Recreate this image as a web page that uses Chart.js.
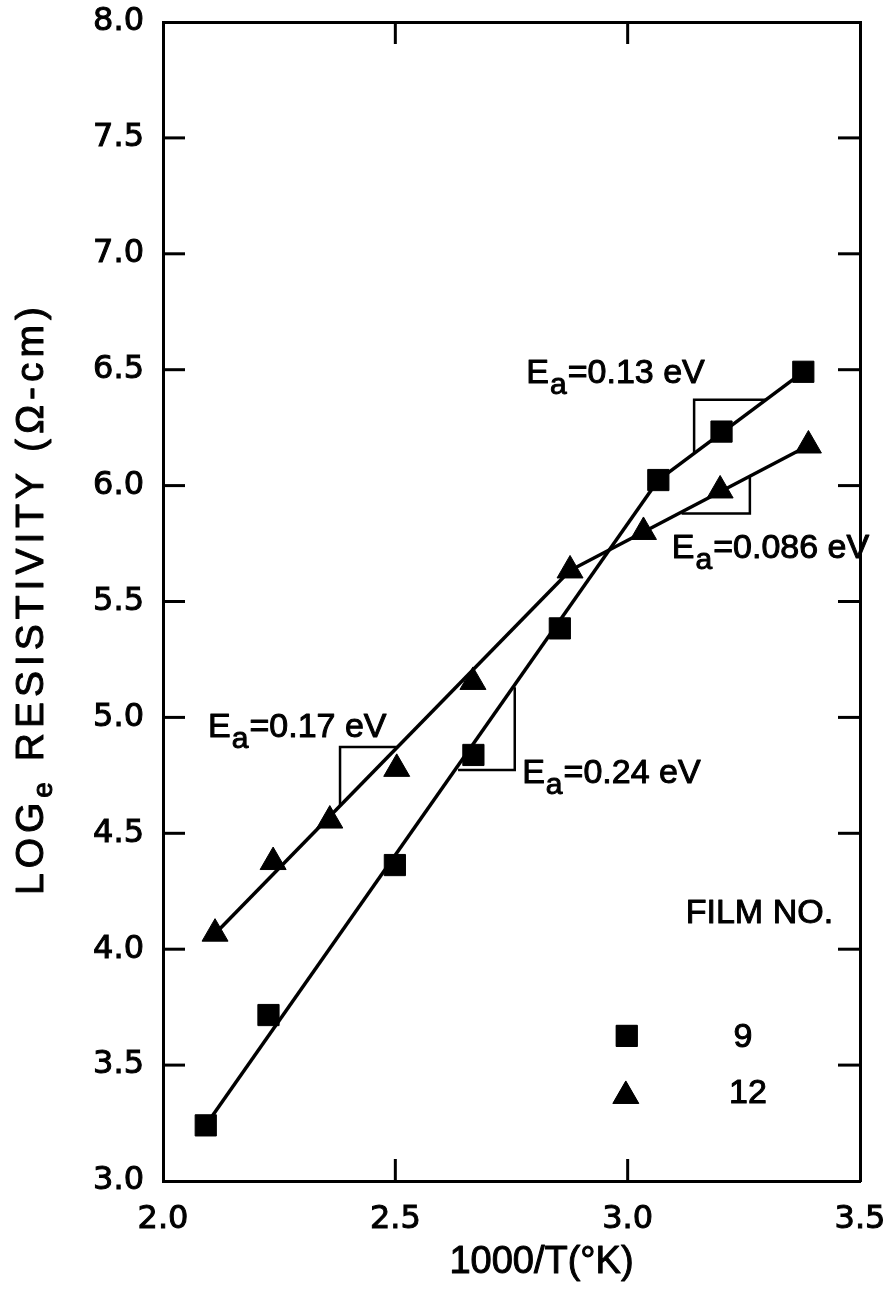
<!DOCTYPE html>
<html><head><meta charset="utf-8">
<script src="https://cdn.jsdelivr.net/npm/chart.js@4.4.0/dist/chart.umd.min.js"></script>
<style>html,body{margin:0;padding:0;background:#fff;}#wrap{width:887px;height:1302px;position:relative;}</style>
</head><body><div id="wrap"><canvas id="c"></canvas></div>
<script>
// ---- data ----
const film9X  = [2.092, 2.227, 2.499, 2.668, 2.854, 3.066, 3.202, 3.378];
const film9Y  = [3.24, 3.716, 4.363, 4.838, 5.384, 6.024, 6.233, 6.491];
const film12X = [2.112, 2.237, 2.359, 2.503, 2.667, 2.876, 3.034, 3.199, 3.389];
const film12Y = [4.067, 4.376, 4.555, 4.778, 5.153, 5.634, 5.80, 5.979, 6.173];
// fitted straight lines
const fit9HighX  = [2.092, 3.066]; const fit9HighY  = [3.24, 6.024];
const fit9LowX   = [3.066, 3.378]; const fit9LowY   = [6.024, 6.491];
const fit12HighX = [2.112, 2.876]; const fit12HighY = [4.067, 5.634];
const fit12LowX  = [2.876, 3.389]; const fit12LowY  = [5.634, 6.173];
// slope brackets
const br017X  = [2.381, 2.381, 2.503]; const br017Y  = [4.62, 4.872, 4.872];
const br024X  = [2.635, 2.757, 2.757]; const br024Y  = [4.773, 4.773, 5.13];
const br013X  = [3.143, 3.143, 3.299]; const br013Y  = [6.14, 6.37, 6.37];
const br0086X = [3.116, 3.263, 3.263]; const br0086Y = [5.88, 5.88, 6.04];
// activation energy labels
const eaValues = ['0.17', '0.24', '0.13', '0.086'];
const eaLabelX = [2.097, 2.773, 2.782, 3.095];
const eaLabelY = [4.915, 4.717, 6.443, 5.688];
// axes
const xTicks = [2.0, 2.5, 3.0, 3.5];
const yTicks = [3.0, 3.5, 4.0, 4.5, 5.0, 5.5, 6.0, 6.5, 7.0, 7.5, 8.0];
const xTitle = '1000/T(°K)';
const yTitleMain = 'LOG', yTitleSub = 'e', yTitleRest = ' RESISTIVITY (Ω-cm)';
const legendTitle = 'FILM NO.';
const seriesNames = ['9', '12'];

const FT = '"DejaVu Sans", sans-serif';
const FL = '"Liberation Sans", Arial, sans-serif';
const pts = (xs, ys) => xs.map((v, i) => ({x: v, y: ys[i]}));
const lineDs = (xs, ys, w) => ({data: pts(xs, ys), showLine: true, pointRadius: 0, borderColor: '#000', borderWidth: w, fill: false, tension: 0});

const deco = {
  id: 'deco',
  afterDraw(chart) {
    const {ctx, chartArea: ca, scales: {x, y}} = chart;
    ctx.save();
    ctx.strokeStyle = '#000'; ctx.fillStyle = '#000'; ctx.lineWidth = 3; ctx.lineCap = 'butt';
    const seg = (a, b, c, d) => { ctx.beginPath(); ctx.moveTo(a, b); ctx.lineTo(c, d); ctx.stroke(); };
    const T = 22;
    xTicks.slice(1, -1).forEach(v => { const p = x.getPixelForValue(v); seg(p, ca.bottom, p, ca.bottom - T); seg(p, ca.top, p, ca.top + T); });
    yTicks.slice(1, -1).forEach(v => { const p = y.getPixelForValue(v); seg(ca.left, p, ca.left + T, p); seg(ca.right, p, ca.right - T, p); });
    // text helper: filled plus a thin stroke for heavier lettering
    ctx.lineWidth = 1; ctx.lineJoin = 'round';
    const txt = (s, a, b) => { ctx.fillText(s, a, b); ctx.strokeText(s, a, b); };
    // Ea labels
    ctx.textBaseline = 'alphabetic'; ctx.textAlign = 'left';
    eaValues.forEach((val, i) => {
      let px = x.getPixelForValue(eaLabelX[i]); const py = y.getPixelForValue(eaLabelY[i]);
      ctx.font = `34px ${FL}`; txt('E', px, py); px += ctx.measureText('E').width + 1;
      ctx.font = `30px ${FL}`; txt('a', px, py + 11); px += ctx.measureText('a').width + 1;
      ctx.font = `34px ${FL}`; txt('=' + val + ' eV', px, py);
    });
    // legend
    ctx.font = `34px ${FL}`;
    txt(legendTitle, x.getPixelForValue(3.125), y.getPixelForValue(4.113));
    const styles = ['rect', 'triangle'];
    const mk = [[2.998, 3.626], [2.996, 3.367]];
    const lab = [[3.248, 3.578], [3.259, 3.337]];
    ctx.textAlign = 'center';
    styles.forEach((s, i) => {
      Chart.helpers.drawPoint(ctx, {pointStyle: s, radius: 15, rotation: 0, borderWidth: 1}, x.getPixelForValue(mk[i][0]), y.getPixelForValue(mk[i][1]));
      ctx.fill();
      txt(seriesNames[i], x.getPixelForValue(lab[i][0]), y.getPixelForValue(lab[i][1]));
    });
    // x title
    ctx.font = `38px ${FL}`; ctx.textAlign = 'center';
    txt(xTitle, ca.left + 0.543 * (ca.right - ca.left), ca.bottom + 92);
    // y title (rotated)
    ctx.save();
    ctx.translate(43, (ca.top + ca.bottom) / 2 - 3);
    ctx.rotate(-Math.PI / 2);
    ctx.textAlign = 'left';
    ctx.letterSpacing = '5px';
    ctx.font = `39px ${FL}`;
    const w1 = ctx.measureText(yTitleMain).width;
    const w3 = ctx.measureText(yTitleRest).width;
    ctx.font = `28px ${FL}`;
    const w2 = ctx.measureText(yTitleSub).width;
    let sx = -(w1 + w2 + w3) / 2;
    ctx.font = `39px ${FL}`; txt(yTitleMain, sx, 0); sx += w1;
    ctx.font = `28px ${FL}`; txt(yTitleSub, sx, 9); sx += w2;
    ctx.font = `39px ${FL}`; txt(yTitleRest, sx, 0);
    ctx.restore();
    ctx.restore();
  }
};

const axisBase = {
  type: 'linear',
  grid: {display: false, drawTicks: false},
  border: {display: true, color: '#000', width: 3},
};
const noPad = s => { s.paddingLeft = 0; s.paddingRight = 0; s.paddingTop = 0; s.paddingBottom = 0; };
const tickFont = {family: FT, size: 32};

new Chart(document.getElementById('c'), {
  type: 'scatter',
  data: {
    datasets: [
      lineDs(fit9HighX, fit9HighY, 3.5), lineDs(fit9LowX, fit9LowY, 3.5),
      lineDs(fit12HighX, fit12HighY, 3.5), lineDs(fit12LowX, fit12LowY, 3.5),
      lineDs(br017X, br017Y, 2.5), lineDs(br024X, br024Y, 2.5),
      lineDs(br013X, br013Y, 2.5), lineDs(br0086X, br0086Y, 2.5),
      {label: seriesNames[0], data: pts(film9X, film9Y), pointStyle: 'rect', pointRadius: 15, backgroundColor: '#000', borderColor: '#000', borderWidth: 1, showLine: false},
      {label: seriesNames[1], data: pts(film12X, film12Y), pointStyle: 'triangle', pointRadius: 15, backgroundColor: '#000', borderColor: '#000', borderWidth: 1, showLine: false}
    ]
  },
  options: {
    responsive: true, maintainAspectRatio: false, animation: false, events: [],
    devicePixelRatio: 1,
    layout: {padding: 0},
    plugins: {legend: {display: false}, tooltip: {enabled: false}},
    scales: {
      x: Object.assign({}, axisBase, {
        position: 'bottom', min: 2.0, max: 3.5,
        afterBuildTicks: s => { s.ticks = xTicks.map(v => ({value: v})); },
        afterFit: s => { s.height = 121; noPad(s); },
        ticks: {callback: v => Number(v).toFixed(1), color: '#000', font: tickFont, padding: 19, maxRotation: 0, autoSkip: false, textStrokeColor: '#000', textStrokeWidth: 1}
      }),
      y: Object.assign({}, axisBase, {
        position: 'left', min: 3.0, max: 8.0,
        afterBuildTicks: s => { s.ticks = yTicks.map(v => ({value: v})); },
        afterFit: s => { s.width = 163; noPad(s); },
        ticks: {callback: v => Number(v).toFixed(1), color: '#000', font: tickFont, padding: 19, autoSkip: false, textStrokeColor: '#000', textStrokeWidth: 1}
      }),
      xTop: Object.assign({}, axisBase, {
        position: 'top', min: 2.0, max: 3.5, ticks: {display: false},
        afterFit: s => { s.height = 22; noPad(s); }
      }),
      yRight: Object.assign({}, axisBase, {
        position: 'right', min: 3.0, max: 8.0, ticks: {display: false},
        afterFit: s => { s.width = 27; noPad(s); }
      })
    }
  },
  plugins: [deco]
});
</script>
</body></html>
